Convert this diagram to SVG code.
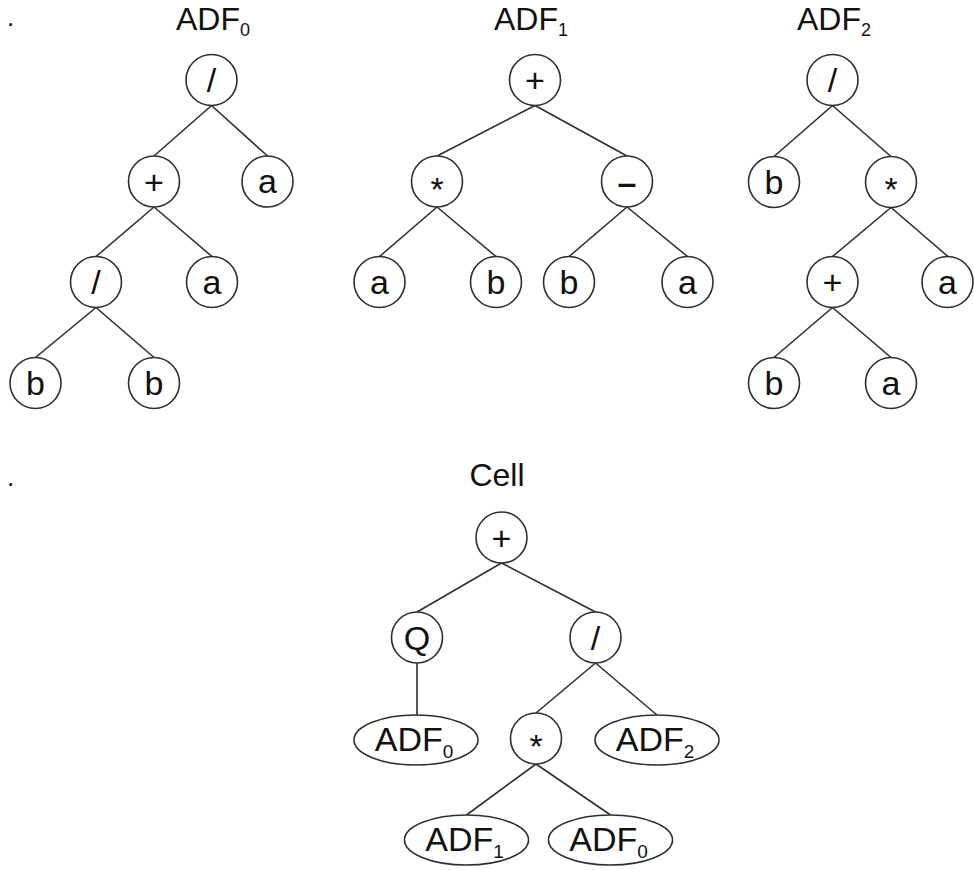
<svg xmlns="http://www.w3.org/2000/svg" width="974" height="870" viewBox="0 0 974 870">
<style>
  .nd { fill: #ffffff; stroke: #2e2e2e; stroke-width: 1.6; }
  .t { font-family: "Liberation Sans", Arial, sans-serif; font-size: 34px; fill: #111111; text-anchor: middle; }
  .sub { font-size: 19px; }
  .ttl { font-family: "Liberation Sans", Arial, sans-serif; font-size: 32px; fill: #111111; text-anchor: middle; }
  .ttl .sub { font-size: 18px; }
  .dot { font-family: "Liberation Sans", Arial, sans-serif; font-size: 26px; fill: #111111; }
  #connectors line { stroke: #2e2e2e; stroke-width: 1.6; }
</style>
<rect width="974" height="870" fill="#ffffff"/>

<text class="dot" x="7" y="26">.</text>
<text class="dot" x="7" y="486">.</text>

<text class="ttl" x="213" y="29.5">ADF<tspan class="sub" dy="6">0</tspan></text>
<text class="ttl" x="531" y="29.5">ADF<tspan class="sub" dy="6">1</tspan></text>
<text class="ttl" x="834" y="29.5">ADF<tspan class="sub" dy="6">2</tspan></text>
<text class="ttl" x="497" y="486">Cell</text>

<g id="connectors">
  <line x1="211.5" y1="105.5" x2="154" y2="156"/>
  <line x1="211.5" y1="105.5" x2="267.5" y2="156"/>
  <line x1="154" y1="207" x2="96" y2="256.5"/>
  <line x1="154" y1="207" x2="212" y2="256.5"/>
  <line x1="96" y1="307.5" x2="35.5" y2="357.5"/>
  <line x1="96" y1="307.5" x2="154" y2="357.5"/>

  <line x1="535" y1="105.5" x2="437" y2="156"/>
  <line x1="535" y1="105.5" x2="627" y2="156"/>
  <line x1="437" y1="207" x2="379.5" y2="256.5"/>
  <line x1="437" y1="207" x2="496" y2="256.5"/>
  <line x1="627" y1="207" x2="569" y2="256.5"/>
  <line x1="627" y1="207" x2="687.5" y2="256.5"/>

  <line x1="832.5" y1="105.5" x2="774" y2="156.5"/>
  <line x1="832.5" y1="105.5" x2="891" y2="156.5"/>
  <line x1="891" y1="207.5" x2="832.5" y2="256.5"/>
  <line x1="891" y1="207.5" x2="948" y2="256.5"/>
  <line x1="832.5" y1="307.5" x2="774" y2="357.5"/>
  <line x1="832.5" y1="307.5" x2="891" y2="357.5"/>

  <line x1="501.5" y1="563" x2="417" y2="612"/>
  <line x1="501.5" y1="563" x2="595.5" y2="612"/>
  <line x1="417" y1="663" x2="417" y2="715"/>
  <line x1="595.5" y1="663" x2="536" y2="713"/>
  <line x1="595.5" y1="663" x2="657" y2="715"/>
  <line x1="536" y1="764" x2="466.5" y2="815"/>
  <line x1="536" y1="764" x2="610.5" y2="815"/>
</g>

<!-- ADF0 -->
<g id="adf0-root"><circle class="nd" cx="211.5" cy="80" r="25.5"/><text class="t" x="211.5" y="92">/</text></g>
<g id="adf0-plus"><circle class="nd" cx="154" cy="181.5" r="25.5"/><text class="t" x="154" y="193.5">+</text></g>
<g id="adf0-a1"><circle class="nd" cx="267.5" cy="181.5" r="25.5"/><text class="t" x="267.5" y="193">a</text></g>
<g id="adf0-div2"><circle class="nd" cx="96" cy="282" r="25.5"/><text class="t" x="96" y="294">/</text></g>
<g id="adf0-a2"><circle class="nd" cx="212" cy="282" r="25.5"/><text class="t" x="212" y="293.5">a</text></g>
<g id="adf0-b1"><circle class="nd" cx="35.5" cy="383" r="25.5"/><text class="t" x="35.5" y="395">b</text></g>
<g id="adf0-b2"><circle class="nd" cx="154" cy="383" r="25.5"/><text class="t" x="154" y="395">b</text></g>

<!-- ADF1 -->
<g id="adf1-root"><circle class="nd" cx="535" cy="80" r="25.5"/><text class="t" x="535" y="92">+</text></g>
<g id="adf1-mul"><circle class="nd" cx="437" cy="181.5" r="25.5"/><text class="t" x="437" y="200.5">*</text></g>
<g id="adf1-minus"><circle class="nd" cx="627" cy="181.5" r="25.5"/><text class="t" x="627" y="193.5" font-weight="bold">–</text></g>
<g id="adf1-a1"><circle class="nd" cx="379.5" cy="282" r="25.5"/><text class="t" x="379.5" y="293.5">a</text></g>
<g id="adf1-b1"><circle class="nd" cx="496" cy="282" r="25.5"/><text class="t" x="496" y="294">b</text></g>
<g id="adf1-b2"><circle class="nd" cx="569" cy="282" r="25.5"/><text class="t" x="569" y="294">b</text></g>
<g id="adf1-a2"><circle class="nd" cx="687.5" cy="282" r="25.5"/><text class="t" x="687.5" y="293.5">a</text></g>

<!-- ADF2 -->
<g id="adf2-root"><circle class="nd" cx="832.5" cy="80" r="25.5"/><text class="t" x="832.5" y="92">/</text></g>
<g id="adf2-b1"><circle class="nd" cx="774" cy="182" r="25.5"/><text class="t" x="774" y="194">b</text></g>
<g id="adf2-mul"><circle class="nd" cx="891" cy="182" r="25.5"/><text class="t" x="891" y="201">*</text></g>
<g id="adf2-plus"><circle class="nd" cx="832.5" cy="282" r="25.5"/><text class="t" x="832.5" y="294">+</text></g>
<g id="adf2-a1"><circle class="nd" cx="947.5" cy="282" r="25.5"/><text class="t" x="947.5" y="293.5">a</text></g>
<g id="adf2-b2"><circle class="nd" cx="774" cy="383" r="25.5"/><text class="t" x="774" y="395">b</text></g>
<g id="adf2-a2"><circle class="nd" cx="891" cy="383" r="25.5"/><text class="t" x="891" y="394.5">a</text></g>

<!-- Cell -->
<g id="cell-root"><circle class="nd" cx="501.5" cy="537.5" r="25.5"/><text class="t" x="501.5" y="549.5">+</text></g>
<g id="cell-q"><circle class="nd" cx="417" cy="637.5" r="25.5"/><text class="t" x="417" y="649.5">Q</text></g>
<g id="cell-div"><circle class="nd" cx="595.5" cy="637.5" r="25.5"/><text class="t" x="595.5" y="649.5">/</text></g>
<g id="cell-adf0a"><ellipse class="nd" cx="416" cy="740" rx="62" ry="25"/><text class="t" x="414" y="751">ADF<tspan class="sub" dy="7">0</tspan></text></g>
<g id="cell-mul"><circle class="nd" cx="536" cy="738.5" r="25.5"/><text class="t" x="536" y="757.5">*</text></g>
<g id="cell-adf2"><ellipse class="nd" cx="657" cy="740" rx="62" ry="25"/><text class="t" x="655" y="751">ADF<tspan class="sub" dy="7">2</tspan></text></g>
<g id="cell-adf1"><ellipse class="nd" cx="466.5" cy="840" rx="62" ry="25"/><text class="t" x="464.5" y="851">ADF<tspan class="sub" dy="7">1</tspan></text></g>
<g id="cell-adf0b"><ellipse class="nd" cx="610.5" cy="840" rx="62" ry="25"/><text class="t" x="608.5" y="851">ADF<tspan class="sub" dy="7">0</tspan></text></g>
</svg>
